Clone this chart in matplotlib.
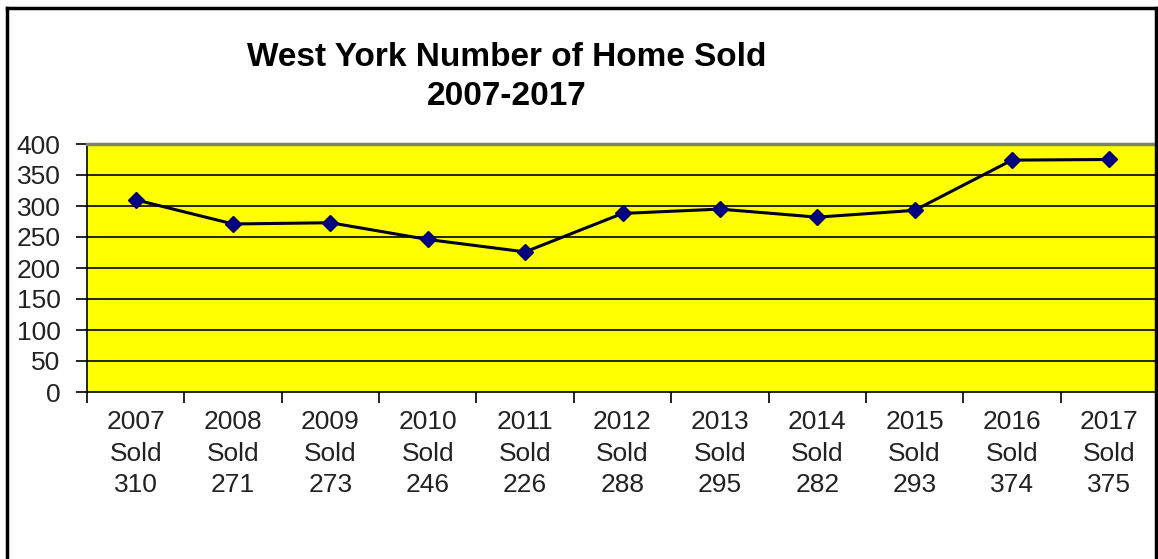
import numpy as np
import matplotlib.pyplot as plt
from matplotlib.lines import Line2D

plt.rcParams['font.family'] = ['Liberation Sans', 'DejaVu Sans']

# Data
years = ['2007', '2008', '2009', '2010', '2011', '2012', '2013', '2014', '2015', '2016', '2017']
sold = [310, 271, 273, 246, 226, 288, 295, 282, 293, 374, 375]
labels = [f"{y}\nSold\n{s}" for y, s in zip(years, sold)]

fig = plt.figure(figsize=(11.58, 5.59), dpi=100)
ax = fig.add_axes([87 / 1158, 1 - 392 / 559, 1 - 87 / 1158, (392 - 144) / 559])
ax.set_facecolor('#ffff00')

x = np.arange(len(years))
ax.plot(x, sold, color='#000020', linewidth=2.2, marker='D', markersize=8.5,
        markerfacecolor='#000080', markeredgecolor='#000060', zorder=3)

ax.set_xlim(-0.5, len(years) - 0.5)
ax.set_ylim(0, 400)
ax.set_yticks(np.arange(0, 401, 50))
for v in range(50, 400, 50):
    ax.axhline(v, color='black', linewidth=1.2, zorder=1)

ax.set_xticks(x)
ax.set_xticklabels(labels, fontsize=19, color='#222222', linespacing=1.4)
ax.set_xticks(np.arange(-0.5, len(years), 1.0), minor=True)
ax.tick_params(axis='x', which='major', length=0, pad=13)
ax.tick_params(axis='x', which='minor', length=8, width=1.2, direction='out')
ax.tick_params(axis='y', length=8, width=1.2, direction='out', labelsize=19,
               labelcolor='#222222', pad=11)

ax.spines['right'].set_visible(False)
ax.spines['top'].set_color('#808070')
ax.spines['top'].set_linewidth(2.5)
ax.spines['left'].set_linewidth(1.2)
ax.spines['bottom'].set_linewidth(1.2)

fig.text(507 / 1158, 1 - 77 / 559, "West York Number of Home Sold\n2007-2017",
         ha='center', va='center', fontsize=24, fontweight='bold', linespacing=1.3)

# outer border (open at the bottom)
bx0, bx1, by = 7.5 / 1158, 1156 / 1158, 1 - 7.5 / 559
for xs, ys in [([bx0, bx0], [0, by]), ([bx0, bx1], [by, by]), ([bx1, bx1], [by, 0])]:
    fig.add_artist(Line2D(xs, ys, color='black', linewidth=2.5, transform=fig.transFigure))

fig.savefig('out.png', dpi=100)
